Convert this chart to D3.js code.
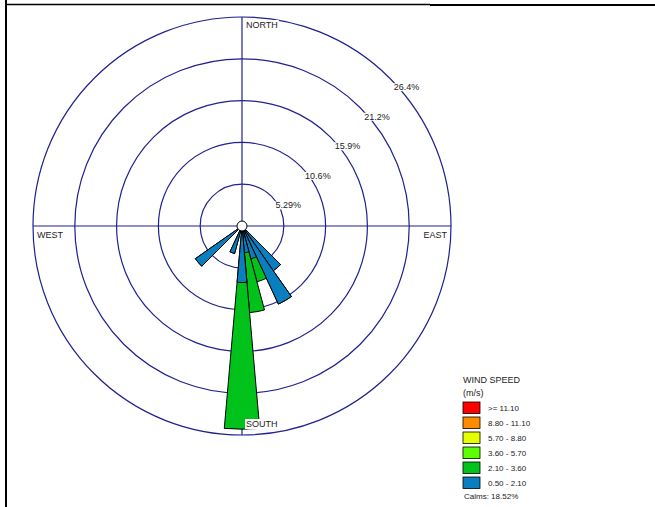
<!DOCTYPE html>
<html>
<head>
<meta charset="utf-8">
<script src="https://cdn.jsdelivr.net/npm/d3@7"></script>
<style>
  html, body { margin: 0; padding: 0; background: #fff; }
  svg { display: block; font-family: "Liberation Sans", Arial, sans-serif; }
</style>
</head>
<body>
<svg id="chart" width="655" height="507"></svg>
<script>
// Wind directions (degrees from north) of the drawn petals, 10° sectors
const directions = [140, 150, 160, 170, 180, 200, 230];
// Frequency (%) per speed class for each direction
const speed0521 = [6.9, 10.9, 4.3, 3.4, 7.15, 3.6, 7.2];   // 0.50 - 2.10 m/s
const speed2136 = [0.0, 0.0, 3.0, 7.6, 18.55, 0.0, 0.0];   // 2.10 - 3.60 m/s
// Frequency rings
const ringValues = [5.288, 10.576, 15.864, 21.152, 26.44];
const ringLabels = ["5.29%", "10.6%", "15.9%", "21.2%", "26.4%"];
// Legend
const legendLabels = [">= 11.10", "8.80 - 11.10", "5.70 - 8.80", "3.60 - 5.70", "2.10 - 3.60", "0.50 - 2.10"];
const legendColors = ["#ff0000", "#ff8c00", "#e6ff00", "#5cff00", "#00c21a", "#0a7fbf"];
const calms = "18.52%";

const svg = d3.select("#chart");
const cx = 242, cy = 226;
const r = d3.scaleLinear().domain([0, 26.44]).range([0, 209]);
const rad = d => d * Math.PI / 180;
const gridColor = "#20208f";

// frame lines
svg.append("line").attr("x1", 5).attr("x2", 430).attr("y1", 4.5).attr("y2", 4.5)
  .attr("stroke", "#000").attr("stroke-width", 1.3);
svg.append("line").attr("x1", 430).attr("x2", 655).attr("y1", 5).attr("y2", 5)
  .attr("stroke", "#000").attr("stroke-width", 2);
svg.append("line").attr("x1", 6).attr("x2", 6).attr("y1", 0).attr("y2", 507)
  .attr("stroke", "#000").attr("stroke-width", 2);

const g = svg.append("g").attr("transform", `translate(${cx},${cy})`);

// rings
g.selectAll("circle.ring").data(ringValues).join("circle")
  .attr("class", "ring").attr("r", d => r(d))
  .attr("fill", "none").attr("stroke", gridColor).attr("stroke-width", 1.2);

// cross axes
const R = r(ringValues[ringValues.length - 1]);
g.append("line").attr("x1", 0).attr("x2", 0).attr("y1", -R).attr("y2", R)
  .attr("stroke", gridColor).attr("stroke-width", 1.2);
g.append("line").attr("x1", -R).attr("x2", R).attr("y1", 0).attr("y2", 0)
  .attr("stroke", gridColor).attr("stroke-width", 1.2);

// ring labels along the 45° diagonal, on a white backing
const ringLab = g.selectAll("g.ringlab").data(ringValues).join("g").attr("class", "ringlab");
ringLab.append("text")
  .attr("x", d => r(d) * Math.sin(rad(45)) + 4)
  .attr("y", d => -r(d) * Math.cos(rad(45)) + 12)
  .attr("font-size", 9).attr("fill", "#222")
  .text((d, i) => ringLabels[i]);
ringLab.each(function () {
  const t = d3.select(this).select("text");
  const b = t.node().getBBox();
  d3.select(this).insert("rect", "text")
    .attr("x", b.x - 1).attr("y", b.y + 1).attr("width", b.width + 2).attr("height", b.height - 2)
    .attr("fill", "#fff");
});

// petals: stacked speed classes, outer class first
const arc = d3.arc().innerRadius(0);
const petals = directions.map((dir, i) => ({
  dir,
  layers: [
    { value: speed0521[i] + speed2136[i], color: legendColors[4] },
    { value: speed0521[i], color: legendColors[5] }
  ]
}));
petals.forEach(p => {
  p.layers.forEach(l => {
    if (l.value <= 0) return;
    g.append("path")
      .attr("d", arc({ outerRadius: r(l.value), startAngle: rad(p.dir - 5), endAngle: rad(p.dir + 5) }))
      .attr("fill", l.color).attr("stroke", "#000").attr("stroke-width", 1)
      .attr("stroke-linejoin", "miter");
  });
});

// center circle
g.append("circle").attr("r", 5).attr("fill", "#fff").attr("stroke", "#000").attr("stroke-width", 1);

// compass labels
function compass(text, x, y, anchor, bg) {
  const t = g.append("text").attr("x", x).attr("y", y).attr("text-anchor", anchor)
    .attr("font-size", 9).attr("fill", "#222").text(text);
  if (bg) {
    const b = t.node().getBBox();
    g.insert("rect", () => t.node()).attr("x", b.x - 1).attr("y", b.y).attr("width", b.width + 2)
      .attr("height", b.height).attr("fill", "#fff");
  }
}
compass("NORTH", 4, -R + 11, "start", true);
compass("SOUTH", 4, R - 8, "start", true);
compass("WEST", -R + 4, 12, "start", false);
compass("EAST", R - 4, 12, "end", false);

// legend
const lg = svg.append("g").attr("transform", "translate(463,0)");
lg.append("text").attr("x", 0).attr("y", 383).attr("font-size", 9).attr("fill", "#222").text("WIND SPEED");
lg.append("text").attr("x", 0).attr("y", 396).attr("font-size", 9).attr("fill", "#222").text("(m/s)");
const ly = d3.scaleBand().domain(legendLabels).range([402, 492]);
lg.selectAll("rect.key").data(legendLabels).join("rect")
  .attr("class", "key").attr("x", 0).attr("y", d => ly(d))
  .attr("width", 17).attr("height", 11.5)
  .attr("fill", (d, i) => legendColors[i]).attr("stroke", "#000").attr("stroke-width", 0.8);
lg.selectAll("text.key").data(legendLabels).join("text")
  .attr("class", "key").attr("x", 25).attr("y", d => ly(d) + 9)
  .attr("font-size", 8).attr("fill", "#222").text(d => d);
lg.append("text").attr("x", 1).attr("y", 499).attr("font-size", 8).attr("fill", "#222").text("Calms: " + calms);
</script>
</body>
</html>
